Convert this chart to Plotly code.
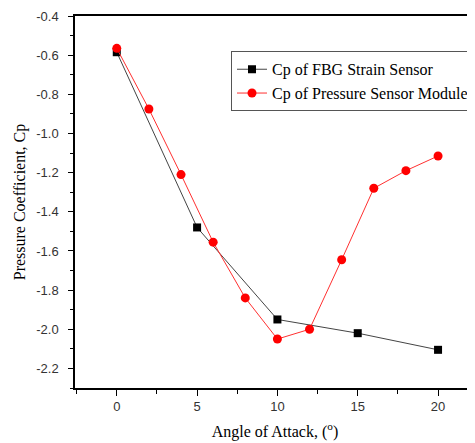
import plotly.graph_objects as go

fbg_x = [0, 5, 10, 15, 20]
fbg_y = [-0.585, -1.48, -1.95, -2.02, -2.105]
psm_x = [0, 2, 4, 6, 8, 10, 12, 14, 16, 18, 20]
psm_y = [-0.565, -0.875, -1.21, -1.555, -1.84, -2.05, -2.0, -1.645, -1.28, -1.19, -1.115]

fig = go.Figure()
fig.add_trace(go.Scatter(x=fbg_x, y=fbg_y, mode="lines+markers", name="Cp of FBG Strain Sensor",
                         line=dict(color="#444444", width=1),
                         marker=dict(symbol="square", size=8, color="black")))
fig.add_trace(go.Scatter(x=psm_x, y=psm_y, mode="lines+markers", name="Cp of Pressure Sensor Module",
                         line=dict(color="#ff3030", width=1),
                         marker=dict(symbol="circle", size=9, color="#ff0000")))

serif = "Liberation Serif, Times New Roman, serif"
sans = "Liberation Sans, Arial, sans-serif"

fig.update_layout(
    width=467, height=435,
    margin=dict(l=67, r=0, t=8, b=55, autoexpand=False),
    paper_bgcolor="white", plot_bgcolor="white",
    showlegend=True,
    legend=dict(x=0.39, y=0.905, xanchor="left", yanchor="top",
                bordercolor="#555555", borderwidth=1, bgcolor="white",
                font=dict(family=serif, size=16, color="black"),
                tracegroupgap=0),
    xaxis=dict(range=[-2.6, 22.3], tickvals=[0, 5, 10, 15, 20], automargin=False,
               showline=True, linecolor="black", linewidth=1.5, mirror=True,
               ticks="outside", ticklen=6, tickcolor="black",
               minor=dict(tickvals=[-2.5, 2.5, 7.5, 12.5, 17.5, 22.5], ticks="outside", ticklen=4, tickcolor="black"),
               showgrid=False, zeroline=False,
               tickfont=dict(family=sans, size=13, color="#333333"),
               title=dict(text="Angle of Attack, (<sup>o</sup>)", font=dict(family=serif, size=16, color="black"), standoff=12)),
    yaxis=dict(range=[-2.3, -0.4], tickvals=[-2.2, -2.0, -1.8, -1.6, -1.4, -1.2, -1.0, -0.8, -0.6, -0.4],
               ticktext=["-2.2", "-2.0", "-1.8", "-1.6", "-1.4", "-1.2", "-1.0", "-0.8", "-0.6", "-0.4"],
               automargin=False, ticklabelstandoff=7,
               showline=True, linecolor="black", linewidth=1.5, mirror=False,
               ticks="outside", ticklen=5, tickcolor="black",
               minor=dict(dtick=0.1, tick0=-2.3, ticks="outside", ticklen=3, tickcolor="black"),
               showgrid=False, zeroline=False,
               tickfont=dict(family=sans, size=13, color="#333333"),
               title=dict(text="Pressure Coefficient, Cp", font=dict(family=serif, size=16, color="black"), standoff=7)),
)
fig.write_html("out.html")
